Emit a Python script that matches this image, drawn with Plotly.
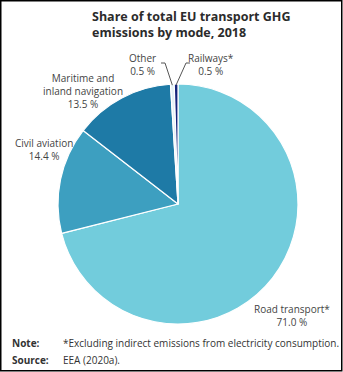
import math
import plotly.graph_objects as go

# Share of EU transport GHG emissions by mode, 2018 (%)
modes = ["Road transport*", "Civil aviation", "Maritime and<br>inland navigation", "Other", "Railways*"]
shares = [71.0, 14.4, 13.5, 0.5, 0.5]
colors = ["#72CCDC", "#3D9FC0", "#1E7AA6", "#E4F2F6", "#15237A"]

W, H = 343, 372
CX, CY, R = 178, 204, 120  # pie centre and radius in pixels


def px(x):
    return x / W


def py(y):
    return 1 - y / H


fig = go.Figure(go.Pie(
    labels=modes,
    values=shares,
    sort=False,
    direction="clockwise",
    rotation=0,
    marker=dict(colors=colors, line=dict(color="white", width=1.2)),
    textinfo="none",
    hoverinfo="label+percent",
    domain=dict(x=[px(CX - R), px(CX + R)], y=[py(CY + R), py(CY - R)]),
    showlegend=False,
))

# label positions (pixel centre of the first line) for each slice
label_pos = {
    "Road transport*": (292, 307),
    "Civil aviation": (44, 141),
    "Maritime and<br>inland navigation": (83, 76),
    "Other": (142, 56),
    "Railways*": (211, 56),
}

annotations = []
for name, val in zip(modes, shares):
    x, y = label_pos[name]
    annotations.append(dict(
        x=px(x), y=py(y - 7), xref="paper", yref="paper",
        text=f"{name}<br>{val:.1f} %", showarrow=False,
        xanchor="center", yanchor="top", align="center",
        font=dict(family="Open Sans", size=10, color="#444444"),
    ))

# leader lines for the two thin slices, ending at each slice's mid-angle on the rim
total = sum(shares)
cum = 0.0
mid_angle = {}
for name, val in zip(modes, shares):
    mid_angle[name] = 2 * math.pi * (cum + val / 2) / total
    cum += val

shapes = []
for name, (x_end, x_elbow) in {"Other": (161, 165), "Railways*": (190, 186)}.items():
    a = mid_angle[name]
    ex = CX + R * math.sin(a)
    ey = CY - R * math.cos(a)
    path = f"M {px(x_end)},{py(63)} L {px(x_elbow)},{py(63)} L {px(ex)},{py(ey + 1)}"
    shapes.append(dict(type="path", path=path, xref="paper", yref="paper",
                       line=dict(color="#555555", width=1)))

# outer frame
shapes.append(dict(type="rect", xref="paper", yref="paper",
                   x0=px(0.75), x1=px(W - 1.25), y0=py(H - 1.25), y1=py(0.75),
                   line=dict(color="black", width=1.5)))

# title
annotations.append(dict(
    x=px(90), y=py(6), xref="paper", yref="paper",
    text="Share of total EU transport GHG<br>emissions by mode, 2018",
    showarrow=False, xanchor="left", yanchor="top", align="left",
    font=dict(family="Open Sans", size=12.5, color="#2b2b2b", weight="bold"),
))

# footnotes
for y, head, body in [(343, "Note:", "*Excluding indirect emissions from electricity consumption."),
                      (360, "Source:", "EEA (2020a).")]:
    annotations.append(dict(
        x=px(10), y=py(y), xref="paper", yref="paper", text=f"<b>{head}</b>",
        showarrow=False, xanchor="left", yanchor="middle",
        font=dict(family="Open Sans", size=10, color="#333333"),
    ))
    annotations.append(dict(
        x=px(61), y=py(y), xref="paper", yref="paper", text=body,
        showarrow=False, xanchor="left", yanchor="middle",
        font=dict(family="Open Sans", size=10, color="#333333"),
    ))

fig.update_layout(
    width=W, height=H,
    margin=dict(l=0, r=0, t=0, b=0),
    paper_bgcolor="white",
    plot_bgcolor="white",
    annotations=annotations,
    shapes=shapes,
)

fig.write_html("out.html", config={"displayModeBar": False})
